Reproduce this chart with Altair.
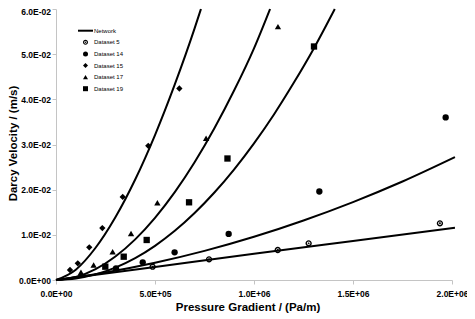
import altair as alt
import pandas as pd

# ---------------- data ----------------
x_ticks = [0, 5e5, 1e6, 1.5e6, 2e6]
y_ticks = [0, 0.01, 0.02, 0.03, 0.04, 0.05, 0.06]

ds5_x = [4.88e5, 7.73e5, 1.12e6, 1.276e6, 1.939e6]
ds5_y = [2.95e-3, 4.58e-3, 6.64e-3, 8.12e-3, 1.255e-2]
ds14_x = [3.03e5, 4.38e5, 5.99e5, 8.72e5, 1.33e6, 1.968e6]
ds14_y = [2.59e-3, 3.92e-3, 6.13e-3, 1.02e-2, 1.96e-2, 3.60e-2]
ds15_x = [7.07e4, 1.10e5, 1.68e5, 2.34e5, 3.37e5, 4.66e5, 6.23e5]
ds15_y = [2.21e-3, 3.70e-3, 7.24e-3, 1.15e-2, 1.84e-2, 2.97e-2, 4.24e-2]
ds17_x = [1.26e5, 1.90e5, 2.86e5, 3.79e5, 5.12e5, 7.58e5, 1.121e6]
ds17_y = [1.70e-3, 3.32e-3, 6.27e-3, 1.03e-2, 1.71e-2, 3.14e-2, 5.61e-2]
ds19_x = [2.49e5, 3.42e5, 4.58e5, 6.72e5, 8.66e5, 1.303e6]
ds19_y = [2.95e-3, 5.16e-3, 8.86e-3, 1.72e-2, 2.69e-2, 5.17e-2]

# network model curves (sampled along the drawn lines)
netA_x = [0, 1e5, 2e5, 3e5, 4e5, 5e5, 6e5, 7e5, 7.32e5]
netA_y = [0, 2.29e-3, 7.14e-3, 1.389e-2, 2.225e-2, 3.21e-2, 4.33e-2, 5.57e-2, 6.0e-2]
netB_x = [0, 1e5, 2e5, 3e5, 4e5, 5e5, 6e5, 7e5, 8e5, 9e5, 1e6, 1.081e6]
netB_y = [0, 6.5e-4, 2.41e-3, 5.21e-3, 9.0e-3, 1.376e-2, 1.945e-2, 2.607e-2, 3.36e-2, 4.20e-2, 5.13e-2, 6.0e-2]
netC_x = [0, 1e5, 2e5, 3e5, 4e5, 5e5, 6e5, 7e5, 8e5, 9e5, 1e6, 1.1e6, 1.2e6, 1.3e6, 1.408e6]
netC_y = [0, 3.5e-4, 1.25e-3, 2.75e-3, 4.85e-3, 7.57e-3, 1.089e-2, 1.483e-2, 1.937e-2, 2.451e-2,
          3.026e-2, 3.66e-2, 4.36e-2, 5.11e-2, 6.0e-2]
netD_x = [0, 2.5e5, 5e5, 7.5e5, 1e6, 1.25e6, 1.5e6, 1.75e6, 2.015e6]
netD_y = [0, 1.67e-3, 3.82e-3, 6.45e-3, 9.57e-3, 1.318e-2, 1.725e-2, 2.18e-2, 2.72e-2]
netE_x = [0, 5e5, 1e6, 1.5e6, 2.015e6]
netE_y = [0, 2.9e-3, 5.8e-3, 8.65e-3, 1.158e-2]

legend_names = ["Network", "Dataset 5", "Dataset 14", "Dataset 15", "Dataset 17", "Dataset 19"]

# ---------------- tables ----------------
pts = []
for name, xs_, ys_ in [("Dataset 5", ds5_x, ds5_y), ("Dataset 14", ds14_x, ds14_y),
                       ("Dataset 15", ds15_x, ds15_y), ("Dataset 17", ds17_x, ds17_y),
                       ("Dataset 19", ds19_x, ds19_y)]:
    for a, b in zip(xs_, ys_):
        pts.append({"dataset": name, "x": a, "y": b})
pts_df = pd.DataFrame(pts)

net = []
for name, xs_, ys_ in [("A", netA_x, netA_y), ("B", netB_x, netB_y), ("C", netC_x, netC_y),
                       ("D", netD_x, netD_y), ("E", netE_x, netE_y)]:
    for a, b in zip(xs_, ys_):
        net.append({"curve": name, "x": a, "y": b})
net_df = pd.DataFrame(net)

# ---------------- styling ----------------
FONT = "Liberation Sans"
GRAY = "#c4c4c4"
label_expr = "replace(replace(upper(format(datum.value, '.1e')), 'E+', 'E+0'), 'E-', 'E-0')"

x_axis = alt.Axis(values=x_ticks, labelExpr=label_expr, title="Pressure Gradient / (Pa/m)",
                  titleFont=FONT, titleFontSize=11.5, titleFontWeight="bold", titleColor="black",
                  titleX=191.5, titleY=30, titleBaseline="alphabetic", titleAlign="center",
                  labelFont=FONT, labelFontSize=8.5, labelFontWeight="bold", labelColor="black",
                  labelPadding=5, tickSize=4, tickColor=GRAY, domainColor=GRAY,
                  grid=False, labelFlush=False, labelOverlap=False)
y_axis = alt.Axis(values=y_ticks, labelExpr=label_expr, title="Darcy Velocity / (m/s)",
                  titleFont=FONT, titleFontSize=11.5, titleFontWeight="bold", titleColor="black",
                  titleX=-39.5, titleY=134, titleAngle=270, titleBaseline="alphabetic",
                  titleAlign="center",
                  labelFont=FONT, labelFontSize=8.5, labelFontWeight="bold", labelColor="black",
                  labelOffset={"condition": {"test": "datum.value > 0.055", "value": 2.5}, "value": 0},
                  labelPadding=1.5, tickSize=4, tickColor=GRAY, domainColor=GRAY,
                  grid=False, labelFlush=False, labelOverlap=False)

xs = alt.Scale(domain=[0, 2e6], nice=False)
ys = alt.Scale(domain=[0, 0.06], nice=False)

line_path = "M-3,-0.4H3V0.4H-3Z"
ring_path = ("M1,0A1,1,0,1,1,-1,0A1,1,0,1,1,1,0Z"
             "M0.55,0A0.55,0.55,0,1,0,-0.55,0A0.55,0.55,0,1,0,0.55,0Z"
             "M0.3,0A0.3,0.3,0,1,1,-0.3,0A0.3,0.3,0,1,1,0.3,0Z")
shape_range = [line_path, ring_path, "circle", "diamond", "triangle-up", "square"]

lines = alt.Chart(net_df).mark_line(color="black", strokeWidth=2, interpolate="monotone").encode(
    x=alt.X("x:Q", scale=xs, axis=x_axis),
    y=alt.Y("y:Q", scale=ys, axis=y_axis),
    detail="curve:N",
)

points = alt.Chart(pts_df).mark_point(filled=True, color="black", opacity=1, size=40).encode(
    x=alt.X("x:Q", scale=xs, axis=x_axis),
    y=alt.Y("y:Q", scale=ys, axis=y_axis),
    shape=alt.Shape("dataset:N",
                    scale=alt.Scale(domain=legend_names, range=shape_range),
                    legend=alt.Legend(title=None, orient="none", legendX=26.5, legendY=18.7,
                                      symbolSize=25, symbolFillColor="black",
                                      symbolStrokeWidth=0, labelFont=FONT, labelFontSize=6,
                                      labelColor="black", rowPadding=5.6, labelOffset=5.5,
                                      padding=0)),
)

chart = alt.layer(lines, points).properties(
    width=396, height=271,
    autosize=alt.AutoSizeParams(type="none"),
    padding={"left": 48, "top": 1, "right": 15, "bottom": 33},
    background="white",
).configure_view(strokeWidth=0)

chart.save("out.html", embed_options={"renderer": "svg", "actions": False})
